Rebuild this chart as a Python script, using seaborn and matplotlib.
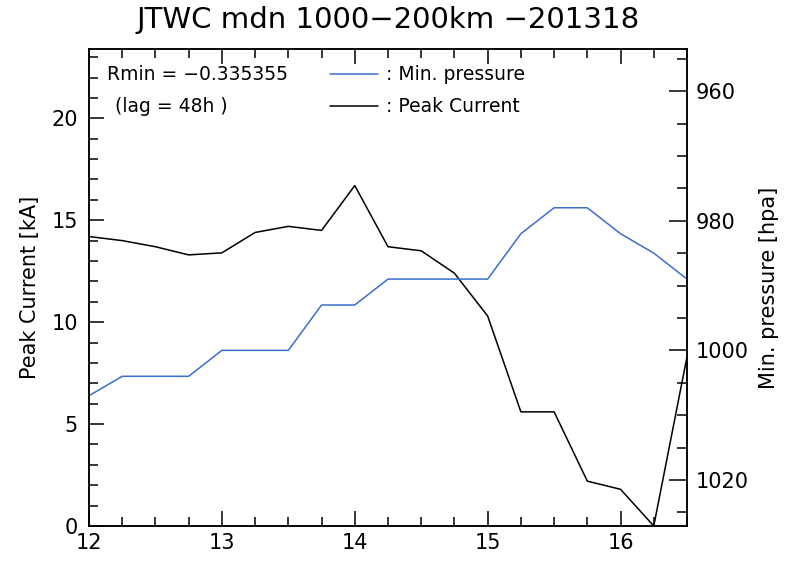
import matplotlib
matplotlib.use("Agg")
import matplotlib.pyplot as plt
from matplotlib.lines import Line2D
from matplotlib.ticker import MultipleLocator
import pandas as pd
import seaborn as sns

# --- Data ---
days = [12.0, 12.25, 12.5, 12.75, 13.0, 13.25, 13.5, 13.75, 14.0, 14.25,
        14.5, 14.75, 15.0, 15.25, 15.5, 15.75, 16.0, 16.25, 16.5]
peak_current = [14.2, 14.0, 13.7, 13.3, 13.4, 14.4, 14.7, 14.5, 16.7, 13.7,
                 13.5, 12.4, 10.3, 5.6, 5.6, 2.2, 1.8, 0.0, 8.3]
min_pressure = [1007, 1004, 1004, 1004, 1000, 1000, 1000, 993, 993, 989,
                989, 989, 989, 982, 978, 978, 982, 985, 989]

title = "JTWC mdn 1000\u2212200km \u2212201318"
rmin_text = "Rmin = \u22120.335355"
lag_text = "(lag = 48h )"

df = pd.DataFrame({"day": days, "current": peak_current, "pressure": min_pressure})

sns.set_style("ticks")
plt.rcParams["font.family"] = ["DejaVu Sans"]
plt.rcParams.update({"text.color": "black", "axes.labelcolor": "black",
                     "xtick.color": "black", "ytick.color": "black"})

W, H = 785, 573
fig = plt.figure(figsize=(W / 100, H / 100), dpi=100)
ax = fig.add_axes([89 / W, 1 - 526 / H, (687 - 89) / W, (526 - 49) / H])
ax2 = ax.twinx()

blue = "#3a6ed0"
sns.lineplot(data=df, x="day", y="current", ax=ax, color="black", lw=1.1)
sns.lineplot(data=df, x="day", y="pressure", ax=ax2, color=blue, lw=1.1)

ax.set_xlim(12, 16.5)
ax.set_ylim(0, 23.4)
ax2.set_ylim(1027.1, 953.5)

ax.xaxis.set_major_locator(MultipleLocator(1))
ax.xaxis.set_minor_locator(MultipleLocator(0.25))
ax.yaxis.set_major_locator(MultipleLocator(5))
ax.yaxis.set_minor_locator(MultipleLocator(1))
ax2.yaxis.set_major_locator(MultipleLocator(20))
ax2.yaxis.set_minor_locator(MultipleLocator(5))

for a in (ax, ax2):
    for s in a.spines.values():
        s.set_visible(True)
        s.set_linewidth(1.1)
        s.set_color("black")

ax.tick_params(axis="x", which="both", direction="in", top=True, labelsize=15, pad=5)
ax.tick_params(axis="y", which="both", direction="in", right=False, labelsize=15, pad=8)
ax.tick_params(which="major", length=11, width=1.1)
ax.tick_params(which="minor", length=6.5, width=1.1)
ax2.tick_params(axis="y", which="both", direction="in", labelsize=15, pad=6)
ax2.tick_params(which="major", length=13, width=1.1)
ax2.tick_params(which="minor", length=7, width=1.1)

ax.set_xlabel("")
ax.set_ylabel("Peak Current [kA]", fontsize=15, labelpad=8)
ax2.set_ylabel("Min. pressure [hpa]", fontsize=15, labelpad=8)
ax.set_title(title, fontsize=21, pad=15)

# --- Annotation block in upper left ---
fs = 13.5
fig.text(107 / W, 1 - 74 / H, rmin_text, fontsize=fs, va="center")
fig.text(115 / W, 1 - 106 / H, lag_text, fontsize=fs, va="center")
fig.add_artist(Line2D([330 / W, 378 / W], [1 - 74 / H, 1 - 74 / H], color=blue, lw=1.1))
fig.add_artist(Line2D([330 / W, 378 / W], [1 - 106 / H, 1 - 106 / H], color="black", lw=1.1))
fig.text(386 / W, 1 - 74 / H, ": Min. pressure", fontsize=fs, va="center")
fig.text(386 / W, 1 - 106 / H, ": Peak Current", fontsize=fs, va="center")

fig.savefig("out.png", dpi=100)
